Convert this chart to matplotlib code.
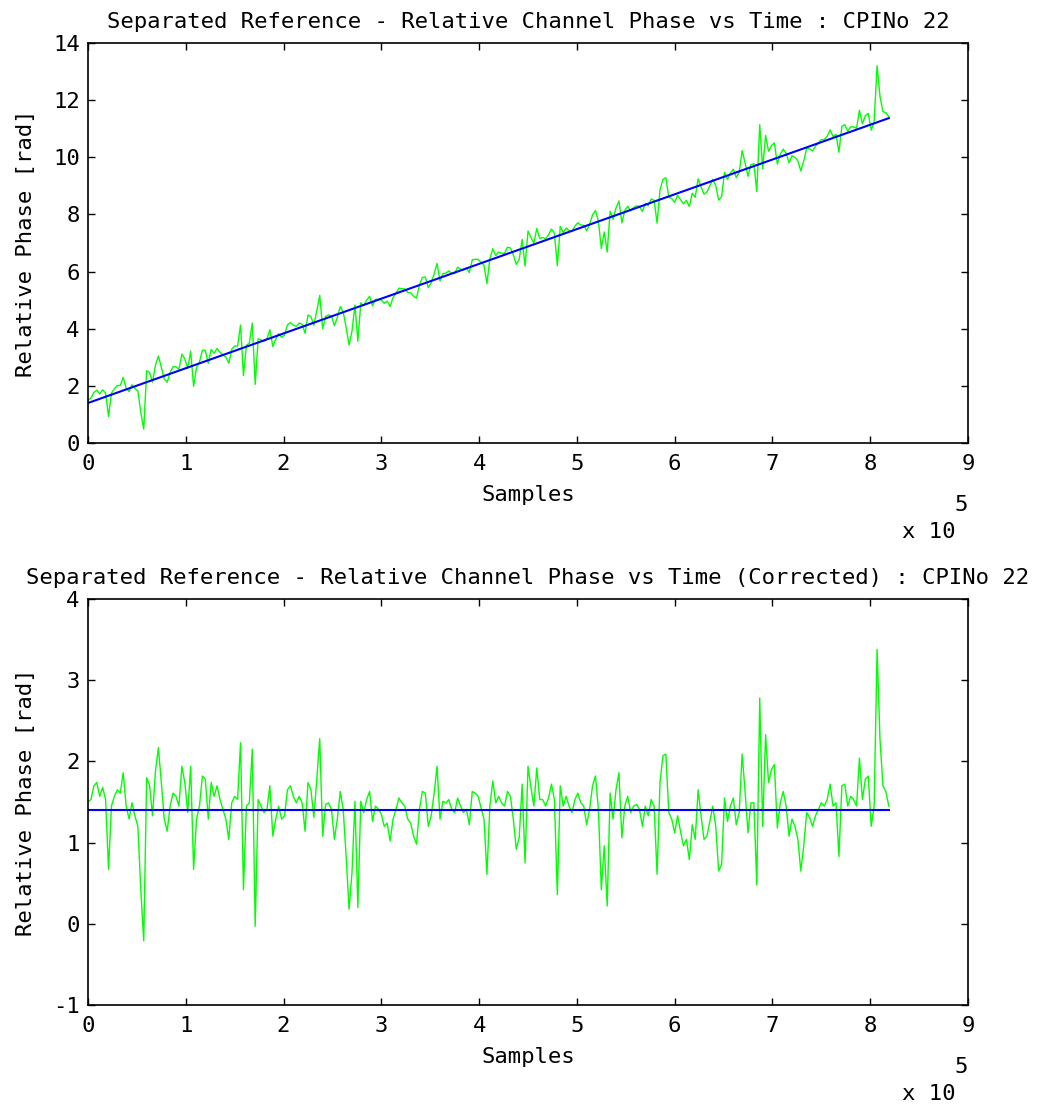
import numpy as np
import matplotlib
matplotlib.use("Agg")
import matplotlib.pyplot as plt
from matplotlib.ticker import MultipleLocator

# Relative channel phase after removing the linear drift [rad], one value every 3000 samples
sample_step = 3000
corrected_phase = [
    1.50, 1.53, 1.70, 1.74, 1.57, 1.68, 1.53, 0.67, 1.45, 1.57,
    1.65, 1.61, 1.86, 1.45, 1.29, 1.49, 1.33, 1.20, 0.42, -0.21,
    1.80, 1.70, 1.33, 1.88, 2.17, 1.74, 1.29, 1.14, 1.45, 1.61,
    1.57, 1.45, 1.94, 1.74, 1.37, 1.94, 0.67, 1.29, 1.45, 1.82,
    1.78, 1.29, 1.74, 1.57, 1.70, 1.53, 1.41, 1.29, 1.04, 1.49,
    1.57, 1.53, 2.23, 0.42, 1.45, 1.49, 2.15, -0.03, 1.53, 1.45,
    1.37, 1.41, 1.70, 1.08, 1.29, 1.45, 1.29, 1.33, 1.65,
    1.70, 1.57, 1.49, 1.57, 1.49, 1.14, 1.74, 1.65, 1.31, 1.78,
    2.28, 1.08, 1.47, 1.49, 1.41, 1.04, 1.29, 1.63, 1.41, 0.83,
    0.18, 0.63, 1.51, 0.20, 1.51, 1.37, 1.53, 1.63, 1.26, 1.45,
    1.41, 1.35, 1.20, 1.24, 1.02, 1.29, 1.41, 1.55, 1.49, 1.45,
    1.29, 1.24, 1.08, 0.98, 1.41, 1.63, 1.61, 1.20, 1.33, 1.61,
    1.94, 1.29, 1.51, 1.49, 1.53, 1.41, 1.37, 1.55, 1.45, 1.37,
    1.41, 1.22, 1.63, 1.61, 1.57, 1.43, 1.29, 0.61, 1.45,
    1.76, 1.49, 1.57, 1.49, 1.45, 1.63, 1.57, 1.29, 0.92, 1.06,
    1.72, 0.75, 1.94, 1.68, 1.45, 1.92, 1.53, 1.53, 1.45, 1.55,
    1.72, 1.53, 0.36, 1.70, 1.45, 1.57, 1.45, 1.37, 1.53, 1.61,
    1.49, 1.45, 1.22, 1.41, 1.70, 1.82, 1.41, 0.42, 0.96, 0.22,
    1.61, 1.29, 1.65, 1.86, 1.06, 1.45, 1.57, 1.37, 1.45, 1.47,
    1.41, 1.20, 1.45, 1.33, 1.53, 1.45, 0.61, 1.74, 2.07, 2.09,
    1.37, 1.29, 1.12, 1.33, 1.14, 0.96, 1.04, 0.79,
    1.22, 1.04, 1.65, 1.33, 1.04, 1.08, 1.26, 1.45, 1.20, 0.65,
    0.73, 1.55, 1.26, 1.45, 1.55, 1.22, 1.37, 2.09, 1.63, 1.12,
    1.49, 1.49, 0.48, 2.78, 1.20, 2.33, 1.74, 1.90, 1.96, 1.18,
    1.49, 1.63, 1.45, 1.08, 1.29, 1.20, 1.04, 0.65, 0.96, 1.37,
    1.31, 1.20, 1.33, 1.41, 1.49, 1.45, 1.53, 1.72, 1.45, 1.49,
    0.83, 1.70, 1.72, 1.45, 1.57, 1.53, 1.45, 2.04, 1.53, 1.78,
    1.82, 1.20, 1.45, 3.38, 2.27, 1.70, 1.63, 1.45,
]

# Linear phase-drift fit: value at the first and at the last sample [rad]
fit_start = 1.40
fit_end = 11.37

x_tick_labels = ["0", "1", "2", "3", "4", "5", "6", "7", "8", "9"]
cpi_number = 22

samples = np.arange(len(corrected_phase)) * sample_step
corrected = np.asarray(corrected_phase)
slope = (fit_end - fit_start) / samples[-1]
fit_line = fit_start + slope * samples
# measured phase = corrected phase with the fitted drift added back
raw_phase = corrected + slope * samples
flat_line = np.full_like(corrected, fit_start)

plt.rcParams["font.family"] = ["DejaVu Sans Mono"]
plt.rcParams["font.size"] = 16
plt.rcParams["axes.unicode_minus"] = False

fig = plt.figure(figsize=(10.43, 11.04), dpi=100)
W, H = 1043.0, 1104.0


def axes_px(left, top, right, bottom):
    return fig.add_axes([left / W, 1 - bottom / H, (right - left) / W, (bottom - top) / H])


ax1 = axes_px(88, 43, 968, 443)
ax2 = axes_px(88, 599, 968, 1005)

GREEN = "#00ff00"
BLUE = "#0000ff"
FS = 16

ax1.plot(samples, raw_phase, color=GREEN, lw=1.0)
ax1.plot(samples, fit_line, color=BLUE, lw=1.5)
ax2.plot(samples, corrected, color=GREEN, lw=1.0)
ax2.plot(samples, flat_line, color=BLUE, lw=1.5)

ax1.set_ylim(0, 14)
ax1.yaxis.set_major_locator(MultipleLocator(2))
ax2.set_ylim(-1, 4)
ax2.yaxis.set_major_locator(MultipleLocator(1))

ax1.set_title(f"Separated Reference - Relative Channel Phase vs Time : CPINo {cpi_number}",
              fontsize=FS, pad=11)
ax2.set_title(f"Separated Reference - Relative Channel Phase vs Time (Corrected) : CPINo {cpi_number}",
              fontsize=FS, pad=11)

for ax in (ax1, ax2):
    ax.set_xlim(0, 9e5)
    ax.set_xticks(np.arange(len(x_tick_labels)) * 1e5)
    ax.set_xticklabels(x_tick_labels)
    ax.tick_params(direction="in", length=5, width=1.0, top=True, right=True,
                   labelsize=FS)
    ax.tick_params(axis="x", pad=8)
    ax.tick_params(axis="y", pad=6)
    for sp in ax.spines.values():
        sp.set_linewidth(1.2)
    ax.set_xlabel("Samples", fontsize=FS, labelpad=8)
    ax.set_ylabel("Relative Phase [rad]", fontsize=FS, labelpad=12)
    ax.annotate("x 10", xy=(1, 0), xycoords="axes fraction", xytext=(-13, -89),
                textcoords="offset pixels", ha="right", va="center", fontsize=FS)
    ax.annotate("5", xy=(1, 0), xycoords="axes fraction", xytext=(-7, -62),
                textcoords="offset pixels", ha="center", va="center", fontsize=FS)

fig.savefig("out.png", dpi=100, facecolor="white")
